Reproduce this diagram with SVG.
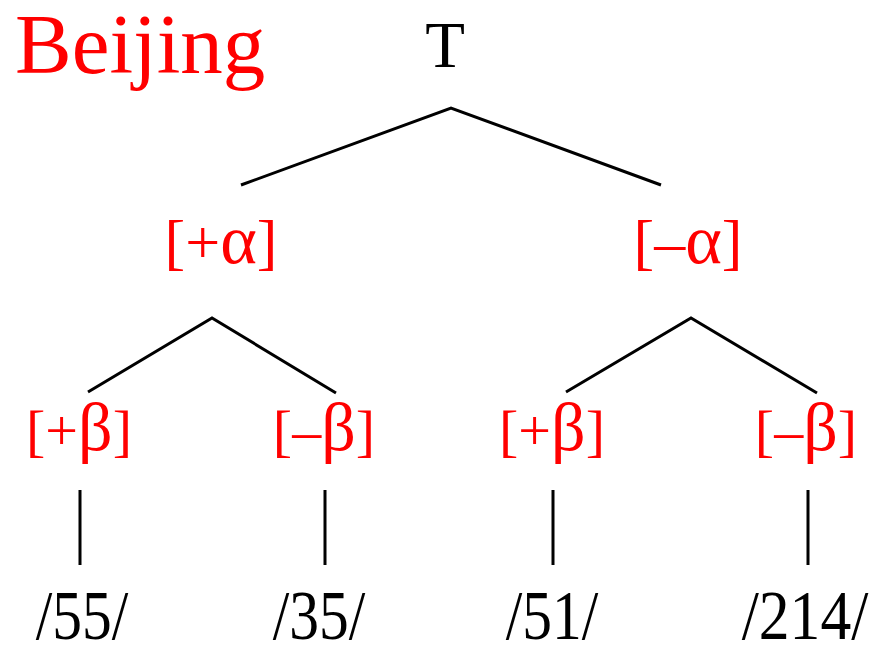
<svg xmlns="http://www.w3.org/2000/svg" width="876" height="645" viewBox="0 0 876 645">
<style>
text{font-family:"Liberation Serif","Times New Roman",serif}
.red{fill:#ff0000}
.blk{fill:#000000}
.feat{font-size:62px;text-anchor:middle}
.beta{font-size:58px;text-anchor:middle}
.num{font-size:70px;text-anchor:middle}
.ga{font-size:70px}
.gb{font-size:68px}
.edge{stroke:#000;stroke-width:3;fill:none;stroke-linecap:butt}
</style>
<rect width="876" height="645" fill="#fff"/>
<g id="title"><text class="red" x="15" y="73" font-size="85">Beijing</text></g>
<g id="connectors">
<path class="edge" d="M241,185 L451,108 L661,185"/>
<path class="edge" d="M88,392 L212,318 L336,393"/>
<path class="edge" d="M566,392 L691,318 L817,393"/>
<path class="edge" d="M80,490 V565 M325,490 V565 M553,490 V565 M808,490 V565"/>
</g>
<g id="root"><text class="blk" x="445" y="67" font-size="65" text-anchor="middle">T</text></g>
<g id="plus-alpha"><text class="red feat" x="221" y="263">[+<tspan class="ga">α</tspan>]</text></g>
<g id="minus-alpha"><text class="red feat" x="688" y="263">[–<tspan class="ga">α</tspan>]</text></g>
<g id="plus-beta-1"><text class="red beta" x="79" y="450">[+<tspan class="gb">β</tspan>]</text></g>
<g id="minus-beta-1"><text class="red beta" x="324" y="450">[–<tspan class="gb">β</tspan>]</text></g>
<g id="plus-beta-2"><text class="red beta" x="552" y="450">[+<tspan class="gb">β</tspan>]</text></g>
<g id="minus-beta-2"><text class="red beta" x="806" y="450">[–<tspan class="gb">β</tspan>]</text></g>
<g id="t55"><text class="blk num" transform="translate(82,639) scale(0.85,1)">/55/</text></g>
<g id="t35"><text class="blk num" transform="translate(319,639) scale(0.85,1)">/35/</text></g>
<g id="t51"><text class="blk num" transform="translate(552,639) scale(0.85,1)">/51/</text></g>
<g id="t214"><text class="blk num" transform="translate(805,639) scale(0.88,1)">/214/</text></g>
</svg>
